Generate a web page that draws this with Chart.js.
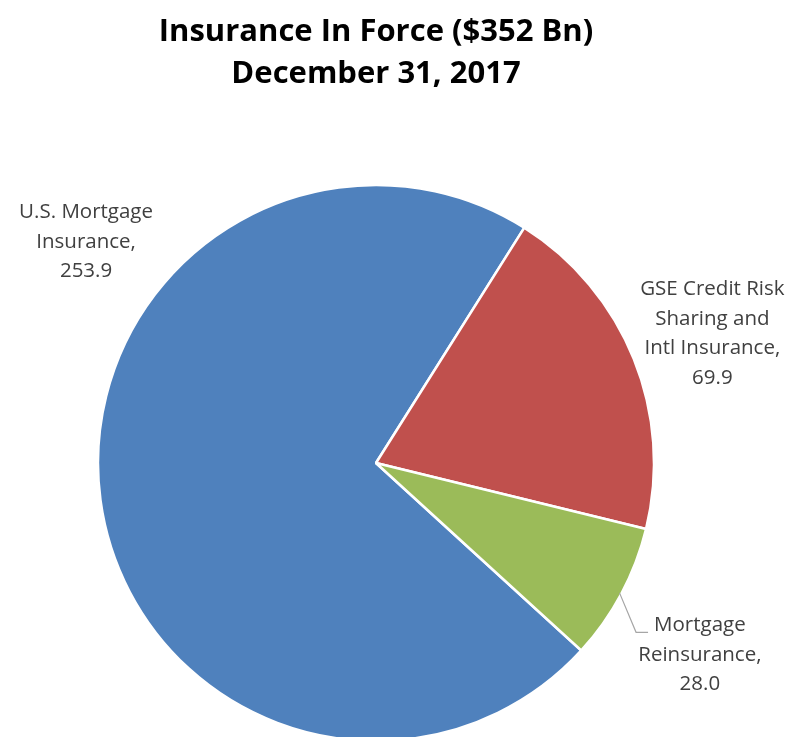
<!DOCTYPE html>
<html>
<head>
<meta charset="utf-8">
<script src="https://cdn.jsdelivr.net/npm/chart.js@4/dist/chart.umd.min.js"></script>
<style>
  body { margin: 0; background: #fff; overflow: hidden; }
  #wrap { width: 788px; height: 737px; }
</style>
</head>
<body>
<div id="wrap"><canvas id="pie" width="788" height="737"></canvas></div>
<script>
// data ($ Bn)
var titleLines = ["Insurance In Force ($352 Bn)", "December 31, 2017"];
var categories = [
  ["U.S. Mortgage", "Insurance,"],
  ["GSE Credit Risk", "Sharing and", "Intl Insurance,"],
  ["Mortgage", "Reinsurance,"]
];
var values = [253.9, 69.9, 28.0];
var colors = ["#4F81BD", "#C0504D", "#9BBB59"];

// where each label sits, relative to the pie centre in units of the radius
var labelSpots = [
  { x: -1.043, y: -0.795, leader: false },
  { x: 1.21, y: -0.466, leader: false },
  { x: 1.165, y: 0.69, leader: true }
];

/* outside labels, drawn the way excel placed them */
var outsideLabels = {
  id: "outsideLabels",
  afterDatasetsDraw: function(chart) {
    var ctx = chart.ctx;
    var arcs = chart.getDatasetMeta(0).data;
    ctx.save();
    ctx.font = "20.5px 'Open Sans'";
    ctx.fillStyle = "#404040";
    ctx.textAlign = "center";
    ctx.textBaseline = "middle";
    arcs.forEach(function(arc, i) {
      var r = arc.outerRadius;
      var lines = categories[i].concat([values[i].toFixed(1)]);
      var lh = 29.5;
      var cx = arc.x + labelSpots[i].x * r;
      var cy = arc.y + labelSpots[i].y * r;
      var top = cy - (lines.length - 1) * lh / 2;
      lines.forEach(function(t, k) {
        ctx.fillText(t, cx, top + k * lh);
      });
      if (labelSpots[i].leader) {
        var mid = (arc.startAngle + arc.endAngle) / 2;
        var sx = arc.x + Math.cos(mid) * (r - 2);
        var sy = arc.y + Math.sin(mid) * (r - 2);
        var w = ctx.measureText(lines[0]).width;
        var ex = cx - w / 2 - 6;
        ctx.strokeStyle = "#a6a6a6";
        ctx.lineWidth = 1.2;
        ctx.beginPath();
        ctx.moveTo(sx, sy);
        ctx.lineTo(ex - 12, top + 7);
        ctx.lineTo(ex, top + 7);
        ctx.stroke();
      }
    });
    ctx.restore();
  }
};

new Chart(document.getElementById("pie"), {
  type: "pie",
  data: {
    labels: categories.map(function(c) { return c.join(" "); }),
    datasets: [{
      data: values,
      backgroundColor: colors,
      borderColor: "#ffffff",
      borderWidth: 2.5,
      radius: 278,
      clip: false
    }]
  },
  options: {
    responsive: false,
    animation: false,
    rotation: 132.4,
    layout: { padding: { left: 0, right: 36, top: 0, bottom: 0 } },
    plugins: {
      legend: { display: false },
      tooltip: { enabled: false },
      title: {
        display: true,
        text: titleLines,
        color: "#000000",
        font: { family: "'Open Sans'", size: 31, weight: "bold", lineHeight: 1.355 },
        padding: { top: 11, bottom: 94 }
      }
    }
  },
  plugins: [outsideLabels]
});
</script>
</body>
</html>
